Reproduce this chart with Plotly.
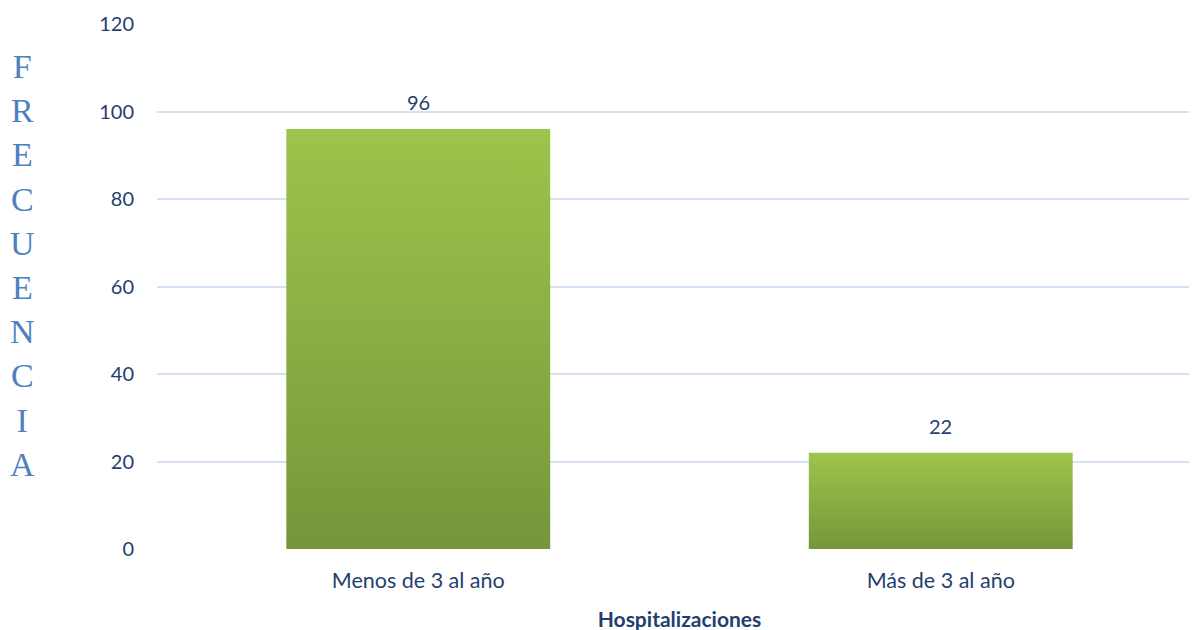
import plotly.graph_objects as go

categories = ["Menos de 3 al año", "Más de 3 al año"]
values = [96, 22]
y_ticks = [0, 20, 40, 60, 80, 100, 120]
y_title = "FRECUENCIA"
x_title = "Hospitalizaciones"

bar_w = 0.505
text_color = "#1F3F6E"
sans = "Lato, Open Sans, sans-serif"

fig = go.Figure()
for i, v in enumerate(values):
    fig.add_trace(go.Scatter(
        x=[i - bar_w / 2, i + bar_w / 2, i + bar_w / 2, i - bar_w / 2, i - bar_w / 2],
        y=[0, 0, v, v, 0],
        mode="lines", line=dict(width=0), fill="toself",
        fillgradient=dict(type="vertical",
                          colorscale=[[0, "#76963A"], [0.55, "#8BB044"], [1, "#9DC44B"]]),
        hoverinfo="skip", showlegend=False,
    ))
    fig.add_annotation(x=i, y=v, text=str(v), showarrow=False, yanchor="bottom",
                       yshift=13, font=dict(family=sans, size=20, color=text_color))

fig.add_annotation(
    text="<br>".join(list(y_title)), xref="paper", yref="paper",
    x=-0.129, y=0.5, xanchor="center", yanchor="middle", showarrow=False,
    font=dict(family="Liberation Serif, DejaVu Serif, serif", size=34, color="#4F81BD"),
    yshift=21,
)

fig.update_layout(
    width=1197, height=630,
    margin=dict(l=149, r=3, t=14, b=89),
    paper_bgcolor="white", plot_bgcolor="white",
    xaxis=dict(range=[-0.5, 1.5], tickvals=list(range(len(categories))), ticktext=categories,
               showgrid=False, zeroline=False, showline=False, ticks="", ticklabelstandoff=16,
               tickfont=dict(family=sans, size=21.5, color=text_color),
               title=dict(text="<b>" + x_title + "</b>", standoff=20,
                          font=dict(family=sans, size=21, color=text_color))),
    yaxis=dict(range=[0, 120], tickvals=y_ticks, showgrid=True, gridcolor="#D5E0F0", gridwidth=1.5,
               zeroline=False, showline=False, ticks="", ticklabelstandoff=22,
               tickfont=dict(family=sans, size=20, color=text_color)),
)

fig.write_html("out.html")
